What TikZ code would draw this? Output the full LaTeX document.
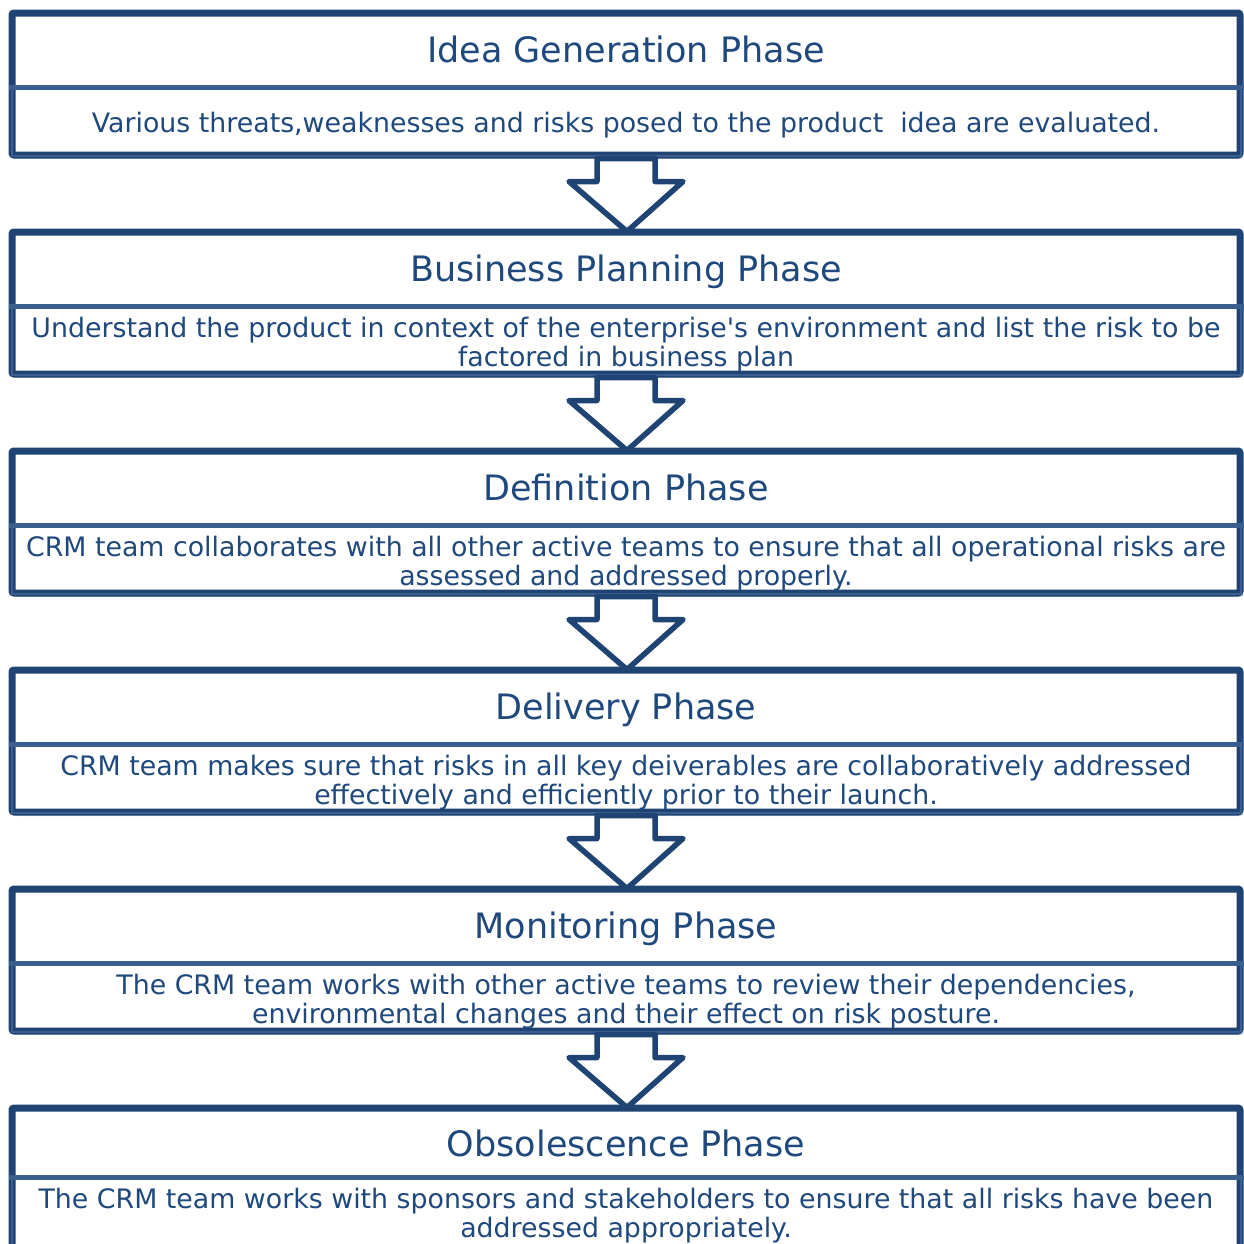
\documentclass[tikz,border=0pt]{standalone}
\usepackage{fontspec}
\setmainfont{DejaVu Sans}
\newfontfamily\vfont{DejaVu Sans}
\usetikzlibrary{calc,shadows}
\definecolor{bdark}{HTML}{1F4373}
\definecolor{blight}{HTML}{3A5F8E}
\definecolor{tblue}{HTML}{1F497D}
\tikzset{
  phasebox/.style={draw=bdark, line width=7pt, fill=white, minimum width=1228pt, minimum height=142pt, inner sep=0pt, rectangle, rounded corners=2pt,
    drop shadow={opacity=0.25, shadow xshift=3pt, shadow yshift=-4pt}},
  divider/.style={draw=blight, line width=5pt},
  lowerbox/.style={draw=blight, line width=2pt},
  ttl/.style={anchor=base, inner sep=0pt, text=tblue, font=\vfont\fontsize{35}{42}\selectfont},
  dsc/.style={anchor=base, inner sep=0pt, text=tblue, font=\vfont\fontsize{26.8}{29}\selectfont},
  blockarrow/.style={draw=bdark, line width=5.5pt, fill=white, line join=round},
}
\begin{document}
\begin{tikzpicture}[x=1pt,y=-1pt]
\useasboundingbox (0,0) rectangle (1244,1243);
\clip (0,0) rectangle (1244,1243);
% boxes
\node[phasebox] (p1) at (626,84) {};
\node[phasebox] (p2) at (626,303) {};
\node[phasebox] (p3) at (626,522) {};
\node[phasebox] (p4) at (626,741) {};
\node[phasebox] (p5) at (626,960) {};
\node[phasebox] (p6) at (626,1179) {};
% dividers and lower parts
\foreach \p/\d in {p1/78,p2/78,p3/78,p4/78,p5/78,p6/73}{
  \draw[lowerbox] ($(\p.north west)+(3,\d)$) rectangle ($(\p.south east)+(-3,-3)$);
  \draw[divider] ($(\p.north west)+(0,\d)$) -- ($(\p.north east)+(0,\d)$);
}
% texts
\node[ttl] (t1) at ($(p1.north)+(0,53)$) {Idea Generation Phase};
\node[dsc] (d1) at ($(p1.north)+(0,122.5)$) {Various threats,weaknesses and risks posed to the product\ \ idea are evaluated.};
\node[ttl] (t2) at ($(p2.north)+(0,53)$) {Business Planning Phase};
\node[dsc] (d2a) at ($(p2.north)+(0,108.5)$) {Understand the product in context of the enterprise's environment and list the risk to be};
\node[dsc] (d2b) at ($(p2.north)+(0,137.5)$) {factored in business plan};
\node[ttl] (t3) at ($(p3.north)+(0,53)$) {Definition Phase};
\node[dsc] (d3a) at ($(p3.north)+(0,108.5)$) {CRM team collaborates with all other active teams to ensure that all operational risks are};
\node[dsc] (d3b) at ($(p3.north)+(0,137.5)$) {assessed and addressed properly.};
\node[ttl] (t4) at ($(p4.north)+(0,53)$) {Delivery Phase};
\node[dsc] (d4a) at ($(p4.north)+(0,108.5)$) {CRM team makes sure that risks in all key deiverables are collaboratively addressed};
\node[dsc] (d4b) at ($(p4.north)+(0,137.5)$) {effectively and efficiently prior to their launch.};
\node[ttl] (t5) at ($(p5.north)+(0,53)$) {Monitoring Phase};
\node[dsc] (d5a) at ($(p5.north)+(0,108.5)$) {The CRM team works with other active teams to review their dependencies,};
\node[dsc] (d5b) at ($(p5.north)+(0,137.5)$) {environmental changes and their effect on risk posture.};
\node[ttl] (t6) at ($(p6.north)+(0,52)$) {Obsolescence Phase};
\node[dsc] (d6a) at ($(p6.north)+(0,104)$) {The CRM team works with sponsors and stakeholders to ensure that all risks have been};
\node[dsc] (d6b) at ($(p6.north)+(0,133)$) {addressed appropriately.};
% arrows
\foreach \a/\b in {p1/p2,p2/p3,p3/p4,p4/p5,p5/p6}{
  \draw[blockarrow] ($(\a.south)+(-29,0)$) -- ($(\a.south)+(-29,23)$) -- ($(\a.south)+(-57,23)$)
    -- ($(\b.north)+(1,3)$) -- ($(\a.south)+(57,23)$) -- ($(\a.south)+(29,23)$) -- ($(\a.south)+(29,0)$) -- cycle;
}
\end{tikzpicture}
\end{document}
